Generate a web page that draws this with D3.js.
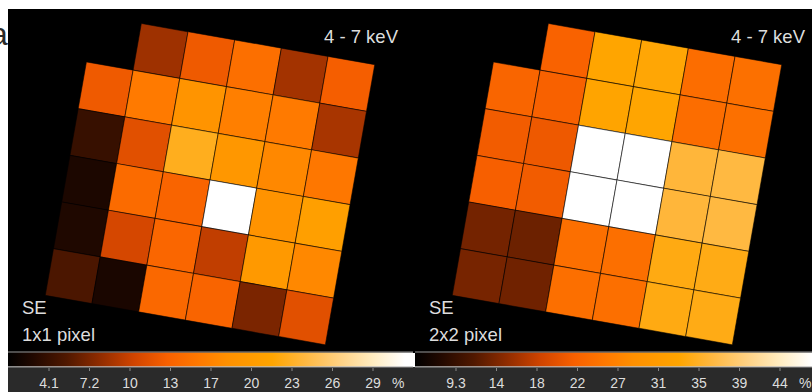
<!DOCTYPE html>
<html>
<head>
<meta charset="utf-8">
<script src="https://cdn.jsdelivr.net/npm/d3@7"></script>
<style>
  html, body { margin: 0; padding: 0; background: #fff; overflow: hidden; }
  text { font-family: "Liberation Sans", Arial, Helvetica, sans-serif; }
</style>
</head>
<body>
<svg id="chart" width="812" height="392"></svg>
<script>
// pixel values in percent, 6x6 grid, row 0 on top; null = no pixel
const valuesSE1 = [
  [null, 8.6, 12.6, 14.6, 8.8, 13.0],
  [12.6, 15.7, 18.4, 16.2, 15.7, 9.0],
  [4.1, 11.7, 22.4, 18.9, 17.0, 15.4],
  [2.6, 14.2, 13.6, 32.0, 18.2, 20.3],
  [2.8, 10.9, 13.8, 10.0, 19.3, 17.0],
  [5.2, 2.5, 14.0, 13.6, 7.2, 11.7]
];
const valuesSE2 = [
  [null, 22.2, 33.0, 33.3, 23.7, 24.0],
  [22.6, 22.0, 32.8, 33.1, 23.7, 24.0],
  [21.4, 21.0, 47.5, 47.5, 36.2, 36.6],
  [21.8, 21.4, 47.5, 47.5, 36.2, 36.6],
  [13.2, 12.8, 23.9, 23.9, 34.0, 34.2],
  [13.4, 13.0, 23.9, 23.9, 34.0, 34.2]
];

// colour bar ranges and ticks
const rangeSE1 = [1.0, 32.0];
const rangeSE2 = [5.0, 48.0];
const ticksSE1 = [4.1, 7.2, 10.3, 13.4, 16.5, 19.6, 22.7, 25.8, 28.9];
const tickLabelsSE1 = ["4.1", "7.2", "10", "13", "17", "20", "23", "26", "29"];
const ticksSE2 = [9.3, 13.6, 17.9, 22.2, 26.5, 30.8, 35.1, 39.4, 43.7];
const tickLabelsSE2 = ["9.3", "14", "18", "22", "27", "31", "35", "39", "44"];

const bandLabel = "4 - 7 keV";
const regionLabel = "SE";
const binLabels = ["1x1 pixel", "2x2 pixel"];
const unitLabel = "%";

// colour map (fraction along bar -> colour)
const cmapStops = [0, 0.06, 0.145, 0.227, 0.31, 0.393, 0.474, 0.54, 0.652, 0.733, 0.815, 0.9, 0.98, 1];
const cmapColors = ["#000000", "#200800", "#501800", "#902c00", "#d04400", "#f86000", "#ff7a00",
  "#ff9000", "#ffa500", "#ffb840", "#ffd080", "#ffecc0", "#ffffff", "#ffffff"];

const cmap = d3.scaleLinear().domain(cmapStops).range(cmapColors)
  .interpolate(d3.interpolateRgb).clamp(true);

const svg = d3.select("#chart");

// cut-off panel letter at the far left
svg.append("text").attr("x", -10).attr("y", 45)
  .attr("font-size", 32).attr("fill", "#2a2a2a").text("a");

svg.append("rect").attr("x", 8).attr("y", 9).attr("width", 804).attr("height", 344).attr("fill", "#000");
svg.append("rect").attr("x", 8).attr("y", 367).attr("width", 804).attr("height", 25).attr("fill", "#2a2a2a");

const grad = svg.append("defs").append("linearGradient").attr("id", "cbar");
grad.selectAll("stop").data(cmapStops).join("stop")
  .attr("offset", d => d)
  .attr("stop-color", (d, i) => cmapColors[i]);

const panelW = 407, barW = 405, cell = 47.4, tilt = 10;

function drawPanel(i, values, range, ticks, tickLabels, binLabel) {
  const x0 = 8 + i * panelW;
  const frac = d3.scaleLinear().domain(range).range([0, 1]).clamp(true);

  const band = d3.scaleBand().domain(d3.range(6)).range([-3 * cell, 3 * cell]);
  const cells = [];
  values.forEach((row, r) => row.forEach((v, c) => { if (v != null) cells.push({ r, c, v }); }));

  svg.append("g")
    .attr("transform", `translate(${x0 + 202},180) rotate(${tilt})`)
    .selectAll("rect")
    .data(cells)
    .join("rect")
    .attr("x", d => band(d.c))
    .attr("y", d => band(d.r))
    .attr("width", band.bandwidth())
    .attr("height", band.bandwidth())
    .attr("fill", d => cmap(frac(d.v)))
    .attr("stroke", "#000")
    .attr("stroke-opacity", 0.55)
    .attr("stroke-width", 1);

  svg.append("text").attr("x", x0 + 390).attr("y", 43).attr("text-anchor", "end")
    .attr("font-size", 18.5).attr("fill", "#ddd").text(bandLabel);
  svg.append("text").attr("x", x0 + 14).attr("y", 314)
    .attr("font-size", 18.5).attr("fill", "#ddd").text(regionLabel);
  svg.append("text").attr("x", x0 + 14).attr("y", 341)
    .attr("font-size", 18.5).attr("fill", "#ddd").text(binLabel);

  // colour bar
  svg.append("rect").attr("x", x0).attr("y", 352.5).attr("width", barW).attr("height", 14)
    .attr("fill", "url(#cbar)");
  svg.append("line").attr("x1", x0).attr("x2", x0 + barW).attr("y1", 352).attr("y2", 352)
    .attr("stroke", "#9a9a9a");
  svg.append("line").attr("x1", x0).attr("x2", x0 + barW).attr("y1", 367).attr("y2", 367)
    .attr("stroke", "#9a9a9a");

  const x = d3.scaleLinear().domain(range).range([x0, x0 + barW]);
  const axis = svg.append("g")
    .attr("transform", "translate(0,368)")
    .call(d3.axisBottom(x).tickValues(ticks).tickFormat((d, j) => tickLabels[j])
      .tickSize(3).tickPadding(7));
  axis.select(".domain").remove();
  axis.selectAll(".tick line").attr("stroke", "#888");
  axis.selectAll(".tick text").attr("fill", "#ddd").attr("font-size", 14)
    .attr("font-family", "Liberation Sans, Arial, sans-serif");

  svg.append("text").attr("x", x0 + barW * 0.948).attr("y", 388)
    .attr("font-size", 14).attr("fill", "#ddd").text(unitLabel);
}

drawPanel(0, valuesSE1, rangeSE1, ticksSE1, tickLabelsSE1, binLabels[0]);
drawPanel(1, valuesSE2, rangeSE2, ticksSE2, tickLabelsSE2, binLabels[1]);
</script>
</body>
</html>
